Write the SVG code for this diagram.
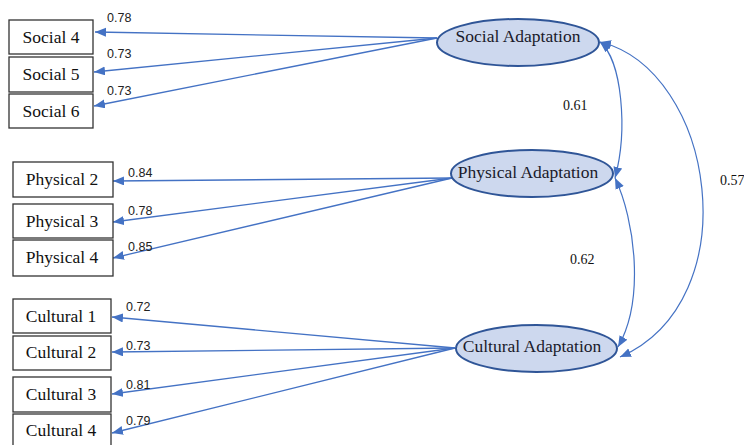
<svg xmlns="http://www.w3.org/2000/svg" width="744" height="445" viewBox="0 0 744 445">
<style>
.box{fill:#fff;stroke:#333;stroke-width:1.3}
.bt{font-family:"Liberation Serif",serif;font-size:17.5px;fill:#111;text-anchor:middle}
.lat{fill:#CDD8EE;stroke:#2F5597;stroke-width:2}
.lt{font-family:"Liberation Serif",serif;font-size:17.5px;fill:#1a1a2a;text-anchor:middle}
.ld{font-family:"Liberation Sans",sans-serif;font-size:12.5px;fill:#222}
.cr{font-family:"Liberation Serif",serif;font-size:14px;fill:#111}
.ar{fill:none;stroke:#4472C4;stroke-width:1.3;marker-end:url(#ah)}
.cv{fill:none;stroke:#4472C4;stroke-width:1.2;marker-end:url(#ah);marker-start:url(#ahs)}
</style>
<defs>
<marker id="ah" markerUnits="userSpaceOnUse" markerWidth="12" markerHeight="10" refX="11" refY="4.5" orient="auto"><path d="M0,0 L11,4.5 L0,9 Z" fill="#4472C4"/></marker>
<marker id="ahs" markerUnits="userSpaceOnUse" markerWidth="12" markerHeight="10" refX="11" refY="4.5" orient="auto-start-reverse"><path d="M0,0 L11,4.5 L0,9 Z" fill="#4472C4"/></marker>
</defs>
<rect width="744" height="445" fill="#fff"/>
<g id="connectors">
<path class="ar" d="M437,38 L95,32"/>
<path class="ar" d="M437,38 L94,72"/>
<path class="ar" d="M437,38 L94,106"/>
<path class="ar" d="M452,178 L113,181"/>
<path class="ar" d="M452,178 L113,222"/>
<path class="ar" d="M452,178 L113,258"/>
<path class="ar" d="M455,348 L112,317"/>
<path class="ar" d="M455,348 L112,352"/>
<path class="ar" d="M455,348 L112,394"/>
<path class="ar" d="M455,348 L112,433"/>
<path class="cv" d="M600,42 C622,60 628,130 615,178"/>
<path class="cv" d="M615,178 C635,220 645,300 618,347"/>
<path class="cv" d="M600,42 C715,70 750,300 620,357"/>
</g>
<g id="labels">
<text class="ld" x="107" y="22">0.78</text>
<text class="ld" x="107" y="58">0.73</text>
<text class="ld" x="107" y="95">0.73</text>
<text class="ld" x="128" y="177">0.84</text>
<text class="ld" x="128" y="215">0.78</text>
<text class="ld" x="128" y="251">0.85</text>
<text class="ld" x="126" y="311">0.72</text>
<text class="ld" x="126" y="350">0.73</text>
<text class="ld" x="126" y="389">0.81</text>
<text class="ld" x="126" y="425">0.79</text>
<text class="cr" x="563" y="110">0.61</text>
<text class="cr" x="570" y="264">0.62</text>
<text class="cr" x="720" y="185">0.57</text>
</g>
<g id="social4"><rect class="box" x="9" y="20" width="84" height="34"/><text class="bt" x="51" y="43">Social 4</text></g>
<g id="social5"><rect class="box" x="9" y="57" width="84" height="35"/><text class="bt" x="51" y="80">Social 5</text></g>
<g id="social6"><rect class="box" x="9" y="94" width="84" height="34"/><text class="bt" x="51" y="117">Social 6</text></g>
<g id="physical2"><rect class="box" x="13" y="162" width="100" height="35"/><text class="bt" x="62" y="185">Physical 2</text></g>
<g id="physical3"><rect class="box" x="13" y="204" width="100" height="34"/><text class="bt" x="62" y="227">Physical 3</text></g>
<g id="physical4"><rect class="box" x="13" y="240" width="100" height="36"/><text class="bt" x="62" y="263">Physical 4</text></g>
<g id="cultural1"><rect class="box" x="13" y="299" width="98" height="34"/><text class="bt" x="61" y="322">Cultural 1</text></g>
<g id="cultural2"><rect class="box" x="13" y="336" width="98" height="34"/><text class="bt" x="61" y="358">Cultural 2</text></g>
<g id="cultural3"><rect class="box" x="13" y="377" width="98" height="35"/><text class="bt" x="61" y="400">Cultural 3</text></g>
<g id="cultural4"><rect class="box" x="13" y="414" width="98" height="40"/><text class="bt" x="61" y="436">Cultural 4</text></g>
<g id="socialAdaptation"><ellipse class="lat" cx="518" cy="42.5" rx="81" ry="23.5"/><text class="lt" x="518" y="42">Social Adaptation</text></g>
<g id="physicalAdaptation"><ellipse class="lat" cx="532" cy="173.5" rx="81" ry="23.5"/><text class="lt" x="528" y="178">Physical Adaptation</text></g>
<g id="culturalAdaptation"><ellipse class="lat" cx="536.5" cy="348.5" rx="80.5" ry="23.5"/><text class="lt" x="532" y="352">Cultural Adaptation</text></g>
</svg>
